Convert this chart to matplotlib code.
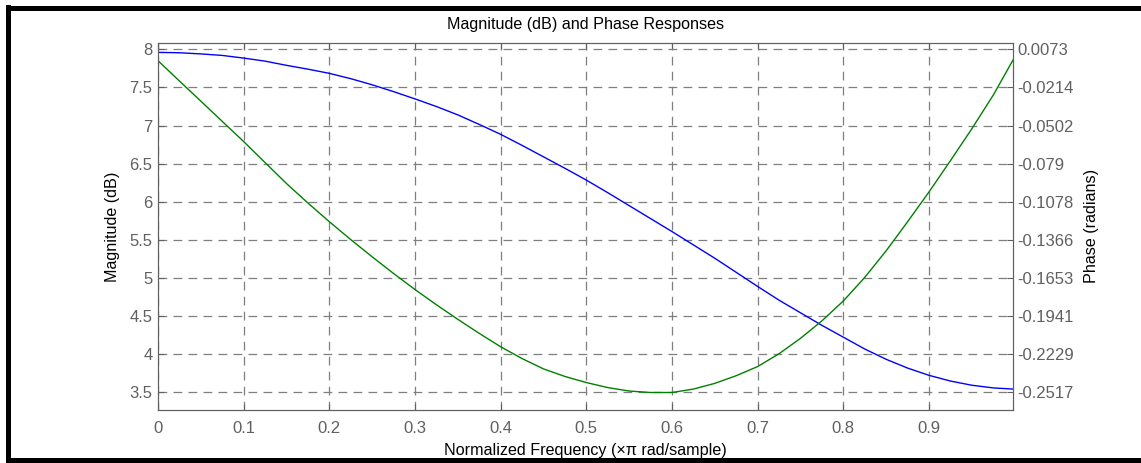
import matplotlib
matplotlib.use("Agg")
import matplotlib.pyplot as plt
import numpy as np
from matplotlib.lines import Line2D

plt.rcParams['font.family'] = ['Liberation Sans', 'DejaVu Sans']

# normalized frequency (x pi rad/sample)
freq = [0.0, 0.025, 0.05, 0.075, 0.1, 0.125, 0.15, 0.175, 0.2, 0.225, 0.25,
        0.275, 0.3, 0.325, 0.35, 0.375, 0.4, 0.425, 0.45, 0.475, 0.5,
        0.525, 0.55, 0.575, 0.6, 0.625, 0.65, 0.675, 0.7, 0.725, 0.75,
        0.775, 0.8, 0.825, 0.85, 0.875, 0.9, 0.925, 0.95, 0.975, 0.998]
# magnitude in dB
mag_db = [7.96, 7.955, 7.94, 7.92, 7.885, 7.845, 7.79, 7.74, 7.685, 7.615, 7.535,
          7.445, 7.35, 7.25, 7.14, 7.015, 6.885, 6.74, 6.59, 6.44, 6.285,
          6.12, 5.95, 5.78, 5.61, 5.435, 5.26, 5.075, 4.89, 4.71, 4.545,
          4.38, 4.225, 4.07, 3.935, 3.82, 3.725, 3.65, 3.595, 3.56, 3.545]
# phase in radians
phase = [-0.0013, -0.0166, -0.0318, -0.0471, -0.0623, -0.0782, -0.0940, -0.1087,
         -0.1228, -0.1363, -0.1493, -0.1619, -0.1740, -0.1855, -0.1965, -0.2071,
         -0.2172, -0.2261, -0.2339, -0.2396, -0.2442, -0.2480, -0.2506, -0.2517,
         -0.2517, -0.2491, -0.2448, -0.2390, -0.2321, -0.2224, -0.2108, -0.1976,
         -0.1826, -0.1648, -0.1447, -0.1228, -0.1003, -0.0767, -0.0526, -0.0272,
         -0.0008]

mag_ticks = [3.5, 4, 4.5, 5, 5.5, 6, 6.5, 7, 7.5, 8]
phase_ticks = [-0.2517, -0.2229, -0.1941, -0.1653, -0.1366, -0.1078,
               -0.079, -0.0502, -0.0214, 0.0073]
phase_labels = ['-0.2517', '-0.2229', '-0.1941', '-0.1653', '-0.1366', '-0.1078',
                '-0.079', '-0.0502', '-0.0214', '0.0073']
freq_ticks = [0, 0.1, 0.2, 0.3, 0.4, 0.5, 0.6, 0.7, 0.8, 0.9]

gray = '#606060'
fig = plt.figure(figsize=(11.41, 4.63), dpi=100)
ax = fig.add_axes([158/1141, 1 - 409.5/463, 855/1141, 366.2/463])

mag_lo, mag_hi = 3.277, 8.079
ax.plot(freq, mag_db, color=(0, 0, 1), lw=1.0)
ax.set_xlim(0, 0.998)
ax.set_ylim(mag_lo, mag_hi)
ax.set_xticks(freq_ticks)
ax.set_xticklabels(['0', '0.1', '0.2', '0.3', '0.4', '0.5', '0.6', '0.7', '0.8', '0.9'])
ax.set_yticks(mag_ticks)
ax.set_yticklabels(['3.5', '4', '4.5', '5', '5.5', '6', '6.5', '7', '7.5', '8'])
ax.grid(True, color='#7f7f7f', linestyle=(0, (7, 5)), lw=0.9)
ax.tick_params(direction='in', length=4, colors=gray, labelsize=12, top=True, pad=4)
ax.tick_params(axis='x', pad=8)
for s in ax.spines.values():
    s.set_color(gray)

# right axis scaled so phase ticks line up with magnitude ticks
scale = (phase_ticks[-1] - phase_ticks[0]) / (8 - 3.5)
ax2 = ax.twinx()
ax2.plot(freq, phase, color=(0, 0.5, 0), lw=1.0)
ax2.set_ylim(phase_ticks[-1] + (mag_lo - 8) * scale, phase_ticks[-1] + (mag_hi - 8) * scale)
ax2.set_yticks(phase_ticks)
ax2.set_yticklabels(phase_labels)
ax2.tick_params(direction='in', length=4, colors=gray, labelsize=12, pad=3)
for s in ax2.spines.values():
    s.set_color(gray)

ax.set_title('Magnitude (dB) and Phase Responses', fontsize=11.6, pad=10)
ax.set_xlabel('Normalized Frequency (\u00d7\u03c0 rad/sample)', fontsize=11.6, labelpad=5)
ax.set_ylabel('Magnitude (dB)', fontsize=11.6, labelpad=7)
ax2.set_ylabel('Phase (radians)', fontsize=11.6, labelpad=7)

# figure frame
W, H = 1141, 463
for xs, ys in [([8, 8], [7, 460]), ([8, W + 5], [7.5, 7.5]), ([8, W + 5], [460, 460])]:
    fig.add_artist(Line2D([x / W for x in xs], [1 - y / H for y in ys],
                          color='black', lw=3.6, transform=fig.transFigure))

fig.savefig('out.png', dpi=100)
